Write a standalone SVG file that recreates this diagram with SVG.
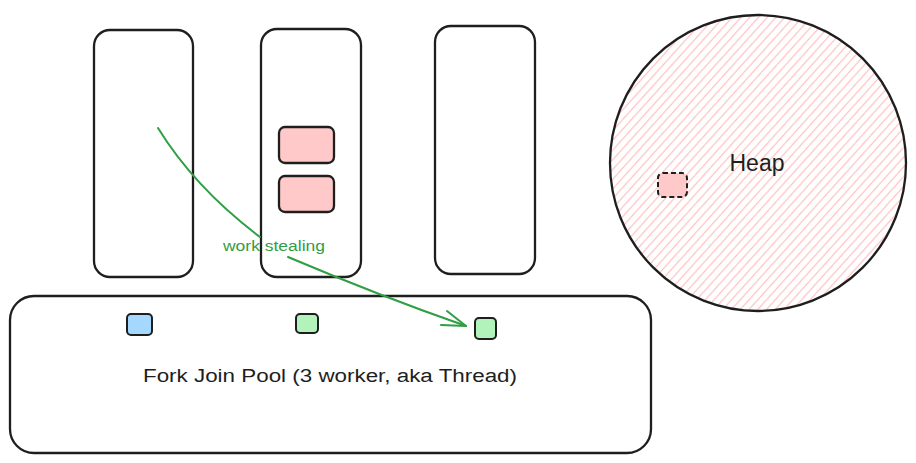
<svg xmlns="http://www.w3.org/2000/svg" width="916" height="463" viewBox="0 0 916 463">
<style>
.box{fill:none;stroke:#1e1e1e;stroke-width:2.3;stroke-linejoin:round}
.task{fill:#ffc9c9;stroke:#1e1e1e;stroke-width:2.3}
.lbl{font-family:"Liberation Sans",Arial,sans-serif;fill:#1e1e1e}
.conn{fill:none;stroke:#2f9e44;stroke-width:2;stroke-linecap:round;stroke-linejoin:round}
</style>
<defs>
<pattern id="hatch" patternUnits="userSpaceOnUse" width="6.5" height="6.5" patternTransform="rotate(-48)">
<line x1="0" y1="3.25" x2="6.5" y2="3.25" stroke="#ffc0c0" stroke-width="1.2"/>
</pattern>
</defs>
<rect width="916" height="463" fill="#ffffff"/>
<g id="heap">
<circle cx="758" cy="163" r="148" fill="url(#hatch)" stroke="#1e1e1e" stroke-width="2.3"/>
<text class="lbl" x="757" y="171" font-size="23" text-anchor="middle">Heap</text>
</g>
<g id="heap-object">
<rect x="658" y="173" width="29" height="24" rx="5" fill="#ffc9c9" stroke="#1e1e1e" stroke-width="2" stroke-dasharray="5 3"/>
</g>
<g id="stack-1">
<rect class="box" x="94" y="30" width="99" height="247" rx="16"/>
</g>
<g id="stack-2">
<rect class="box" x="261" y="29" width="100" height="248" rx="16"/>
</g>
<g id="task-1">
<rect class="task" x="279" y="127" width="55" height="36" rx="6"/>
</g>
<g id="task-2">
<rect class="task" x="279" y="176" width="55" height="36" rx="6"/>
</g>
<g id="stack-3">
<rect class="box" x="435" y="26" width="100" height="248" rx="16"/>
</g>
<g id="pool">
<rect class="box" x="10" y="296" width="641" height="157" rx="24"/>
<text class="lbl" x="330" y="382" font-size="18" text-anchor="middle" textLength="374" lengthAdjust="spacingAndGlyphs">Fork Join Pool (3 worker, aka Thread)</text>
</g>
<g id="worker-1">
<rect x="127" y="314" width="25" height="21" rx="4" fill="#a5d8ff" stroke="#1e1e1e" stroke-width="2"/>
</g>
<g id="worker-2">
<rect x="296" y="314" width="22" height="19" rx="4" fill="#b2f2bb" stroke="#1e1e1e" stroke-width="2"/>
</g>
<g id="worker-3">
<rect x="475" y="318" width="21" height="21" rx="4" fill="#b2f2bb" stroke="#1e1e1e" stroke-width="2"/>
</g>
<g id="connectors">
<path class="conn" d="M158,128 Q195,188 260,237"/>
<path class="conn" d="M288,257 Q380,296 466,326"/>
<path class="conn" d="M447,311 L466,326 L441,325"/>
<text x="274" y="251" font-family="Liberation Sans,Arial,sans-serif" font-size="14" fill="#2f9e44" text-anchor="middle" textLength="102" lengthAdjust="spacingAndGlyphs">work stealing</text>
</g>
</svg>
